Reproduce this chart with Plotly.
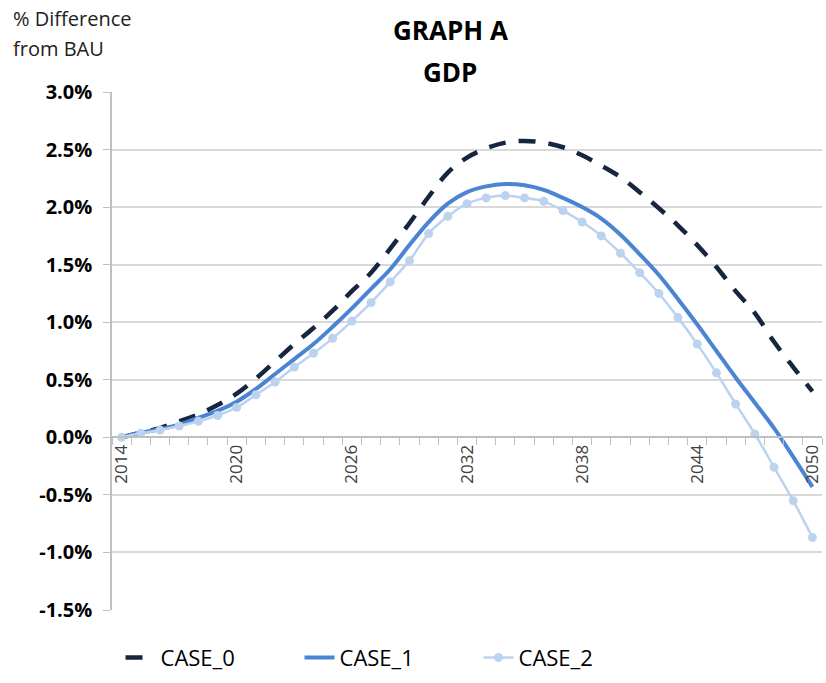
import plotly.graph_objects as go

# Years on the category axis
years = list(range(2014, 2051))

# GDP, % difference from BAU
case_0 = [0.00, 0.04, 0.08, 0.14, 0.20, 0.28, 0.38, 0.51, 0.66, 0.81,
          0.95, 1.10, 1.27, 1.43, 1.64, 1.86, 2.09, 2.30, 2.43, 2.51,
          2.56, 2.575, 2.56, 2.52, 2.45, 2.36, 2.26, 2.13, 1.99, 1.84,
          1.67, 1.48, 1.27, 1.08, 0.83, 0.61, 0.40]
case_1 = [0.00, 0.04, 0.07, 0.11, 0.17, 0.23, 0.31, 0.42, 0.55, 0.68,
          0.81, 0.96, 1.12, 1.29, 1.46, 1.67, 1.87, 2.03, 2.13, 2.18,
          2.20, 2.19, 2.15, 2.08, 2.00, 1.90, 1.76, 1.59, 1.41, 1.20,
          0.98, 0.75, 0.52, 0.30, 0.08, -0.17, -0.43]
case_2 = [0.00, 0.035, 0.063, 0.098, 0.14, 0.19, 0.26, 0.37, 0.48, 0.61,
          0.73, 0.86, 1.01, 1.17, 1.35, 1.535, 1.77, 1.92, 2.03, 2.08,
          2.10, 2.08, 2.05, 1.97, 1.87, 1.75, 1.60, 1.43, 1.25, 1.04,
          0.81, 0.56, 0.29, 0.03, -0.26, -0.55, -0.87]

x_ticks = [2014, 2020, 2026, 2032, 2038, 2044, 2050]
y_ticks = [-1.5, -1.0, -0.5, 0.0, 0.5, 1.0, 1.5, 2.0, 2.5, 3.0]

FONT = "Open Sans"
GRID = "#d9d9d9"
AXIS = "#bfbfbf"

W, H = 826, 683
ML, MR, MT, MB = 112, 4, 92, 71

fig = go.Figure()
fig.add_trace(go.Scatter(
    x=years, y=case_0, name="CASE_0", mode="lines",
    line=dict(color="#172640", width=4.5, dash="17px,13px", shape="spline"),
))
fig.add_trace(go.Scatter(
    x=years, y=case_1, name="CASE_1", mode="lines",
    line=dict(color="#4a84d2", width=4, shape="spline"),
))
fig.add_trace(go.Scatter(
    x=years, y=case_2, name="CASE_2", mode="lines+markers",
    line=dict(color="#bcd3ef", width=2.5, shape="spline"),
    marker=dict(color="#bcd3ef", size=9),
))

# Category separators along the zero line
minor_vals = [y - 0.5 for y in years] + [years[-1] + 0.5]

fig.update_layout(
    width=W, height=H,
    margin=dict(l=ML, r=MR, t=MT, b=MB),
    paper_bgcolor="white", plot_bgcolor="white",
    font=dict(family=FONT, color="#000000"),
    showlegend=True,
    legend=dict(
        orientation="h", x=0.012, y=-0.092, xanchor="left", yanchor="middle",
        font=dict(size=22, family=FONT, color="#000000"),
        entrywidth=134, itemwidth=30,
    ),
    xaxis=dict(
        range=[2013.5, 2050.5],
        tickmode="array", tickvals=x_ticks, ticktext=[str(v) for v in x_ticks],
        tickangle=-90, tickfont=dict(size=17, color="#404040", family=FONT),
        showgrid=False, zeroline=False,
        showline=True, linecolor=AXIS, linewidth=1.5,
        anchor="free", position=1.5 / 4.5,
        ticks="", ticklen=0,
        minor=dict(tickmode="array", tickvals=minor_vals, ticks="outside",
                   ticklen=7, tickcolor=AXIS, tickwidth=1.2, showgrid=False),
    ),
    yaxis=dict(
        range=[-1.5, 3.0],
        tickmode="array", tickvals=y_ticks,
        ticktext=[f"{v:.1f}%" for v in y_ticks],
        tickfont=dict(size=20, color="#000000", family=FONT, weight="bold"),
        showgrid=True, gridcolor=GRID, gridwidth=1.5,
        zeroline=False,
        showline=True, linecolor=AXIS, linewidth=1.5,
        ticks="outside", ticklen=7, tickcolor=AXIS,
        ticklabelstandoff=7,
    ),
)


def px_to_paper(px, py):
    """Container pixels -> paper coordinates."""
    return (px - ML) / (W - ML - MR), (H - MB - py) / (H - MT - MB)


# Two-line chart title
for text, py in [("<b>GRAPH A</b>", 30), ("<b>GDP</b>", 72)]:
    xp, yp = px_to_paper(450, py)
    fig.add_annotation(
        text=text, x=xp, y=yp, xref="paper", yref="paper",
        showarrow=False, xanchor="center", yanchor="middle",
        font=dict(size=26, family=FONT, color="#000000"),
    )

# Y-axis caption in the top-left corner
for text, py in [("% Difference", 18), ("from BAU", 48)]:
    xp, yp = px_to_paper(11, py)
    fig.add_annotation(
        text=text, x=xp, y=yp, xref="paper", yref="paper",
        showarrow=False, xanchor="left", yanchor="middle",
        font=dict(size=20, family=FONT, color="#222222"),
    )

fig.write_html("out.html")
